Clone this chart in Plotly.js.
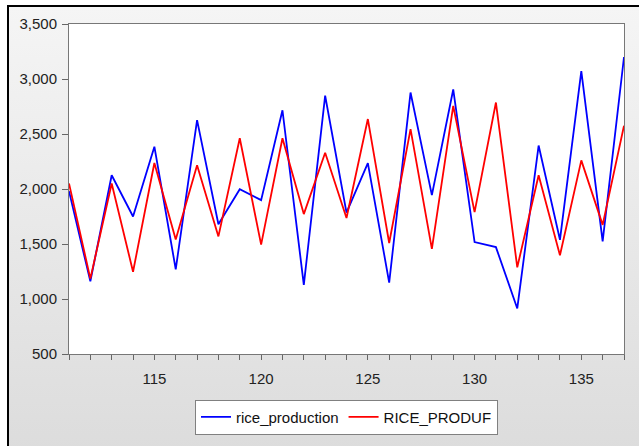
<!DOCTYPE html>
<html>
<head>
<meta charset="utf-8">
<script src="https://cdn.plot.ly/plotly-3.0.1.min.js"></script>
<style>
  html, body { margin: 0; padding: 0; background: #ffffff; }
  #frame { position: absolute; left: 7px; top: 5px; width: 700px; height: 500px;
           border: 2px solid #000; background: linear-gradient(#f5f5f5, #d9d9d9); }
  #chart { position: absolute; left: 0; top: 0; width: 639px; height: 446px; }
</style>
</head>
<body>
<div id="frame"></div>
<div id="chart"></div>
<script>
const periods = [111,112,113,114,115,116,117,118,119,120,121,122,123,124,125,126,127,128,129,130,131,132,133,134,135,136,137];
const riceProduction = [1980,1160,2125,1750,2385,1270,2626,1680,1998,1899,2716,1128,2848,1785,2236,1149,2877,1944,2905,1518,1472,914,2395,1538,3072,1524,3200];
const riceProduf = [2050,1185,2050,1248,2236,1540,2215,1569,2461,1494,2461,1772,2329,1736,2636,1509,2545,1456,2756,1790,2786,1288,2125,1398,2260,1674,2576];

const traces = [
  {x: periods, y: riceProduction, name: 'rice_production', type: 'scatter', mode: 'lines',
   line: {color: '#0000ff', width: 1.8}},
  {x: periods, y: riceProduf, name: 'RICE_PRODUF', type: 'scatter', mode: 'lines',
   line: {color: '#ff0000', width: 1.8}}
];

const axisFont = {family: 'Liberation Sans, Arial, sans-serif', size: 15, color: '#222'};
const layout = {
  width: 639, height: 446,
  margin: {l: 69, r: 15, t: 24, b: 89},
  paper_bgcolor: 'rgba(0,0,0,0)',
  plot_bgcolor: '#ffffff',
  showlegend: true,
  legend: {orientation: 'h', x: 0.5, xanchor: 'center', y: -0.138, yanchor: 'top',
           bgcolor: '#ffffff', bordercolor: '#808080', borderwidth: 1,
           font: {family: 'Liberation Sans, Arial, sans-serif', size: 15, color: '#111'}},
  xaxis: {range: [111, 137], tick0: 0, dtick: 5, ticks: 'outside', ticklen: 5, tickcolor: '#666',
          ticklabelstandoff: 6,
          showline: true, linecolor: '#777', linewidth: 1, mirror: true, showgrid: false, zeroline: false,
          tickfont: axisFont,
          minor: {dtick: 1, tick0: 0, ticks: 'outside', ticklen: 5, tickcolor: '#666', showgrid: false}},
  yaxis: {range: [500, 3500], dtick: 500, tickformat: ',', ticks: 'outside', ticklen: 6, tickcolor: '#666',
          ticklabelstandoff: 2,
          showline: true, linecolor: '#777', linewidth: 1, mirror: true, showgrid: false, zeroline: false,
          tickfont: axisFont}
};
Plotly.newPlot('chart', traces, layout, {displayModeBar: false, staticPlot: true});
</script>
</body>
</html>
